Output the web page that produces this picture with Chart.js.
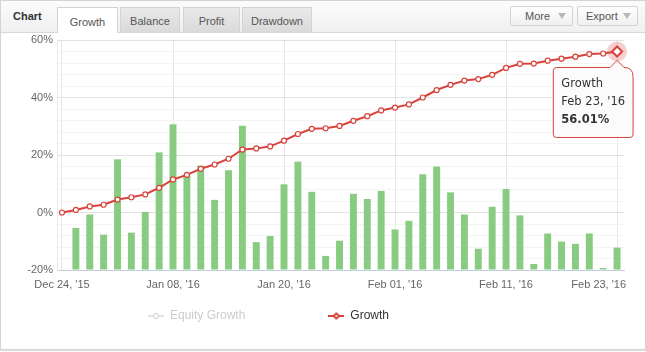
<!DOCTYPE html>
<html><head><meta charset="utf-8">
<script src="https://cdn.jsdelivr.net/npm/chart.js@4.4.1/dist/chart.umd.min.js"></script>
<style>
html,body{margin:0;padding:0;background:#fff;}
body{width:646px;height:352px;position:relative;overflow:hidden;font-family:"Liberation Sans",Arial,sans-serif;}
#cv{position:absolute;left:0;top:0;}
#frame{position:absolute;left:0;top:0;width:644px;height:348px;border:1px solid #d4d4d4;pointer-events:none;box-shadow:0 1px 1px rgba(0,0,0,0.12);z-index:3}
#head{position:absolute;left:0;top:0;width:646px;height:32px;background:linear-gradient(#fcfcfc,#f0f0f0);border-bottom:1px solid #d9d9d9;z-index:2}
#title{position:absolute;left:13px;top:10px;font:bold 11px "Liberation Sans",Arial,sans-serif;color:#333}
.tab{position:absolute;top:7px;height:25px;box-sizing:border-box;border:1px solid #d3d3d3;border-bottom:none;background:linear-gradient(#e9e9e9,#dadada);color:#555;font:11px "Liberation Sans",Arial,sans-serif;display:flex;align-items:center;justify-content:center;padding-top:2px}
.tab.active{background:#fff;height:26px;}
.btn{position:absolute;top:6px;height:20px;box-sizing:border-box;border:1px solid #d3d3d3;border-radius:2px;background:linear-gradient(#ffffff,#f0f0f0);color:#555;font:11px "Liberation Sans",Arial,sans-serif}
.btn span{position:absolute;top:3px}
.btn i{position:absolute;right:6px;top:6px;width:0;height:0;border-left:4px solid transparent;border-right:4px solid transparent;border-top:6px solid #b8b8b8}
</style>
</head><body>
<canvas id="cv" width="646" height="352"></canvas>
<div id="head">
  <div id="title">Chart</div>
  <div class="tab active" style="left:57px;width:61px">Growth</div>
  <div class="tab" style="left:120px;width:60px">Balance</div>
  <div class="tab" style="left:183px;width:57px">Profit</div>
  <div class="tab" style="left:242px;width:70px">Drawdown</div>
  <div class="btn" style="left:510px;width:63px"><span style="left:14px">More</span><i></i></div>
  <div class="btn" style="left:577px;width:61px"><span style="left:8px">Export</span><i></i></div>
</div>
<div id="frame"></div>
<script>
// ---- data ----
const dates = [
  "Dec 24, '15","Dec 28, '15","Dec 29, '15","Dec 30, '15","Jan 04, '16","Jan 05, '16","Jan 06, '16","Jan 07, '16",
  "Jan 08, '16","Jan 11, '16","Jan 12, '16","Jan 13, '16","Jan 14, '16","Jan 15, '16","Jan 18, '16","Jan 19, '16",
  "Jan 20, '16","Jan 21, '16","Jan 22, '16","Jan 25, '16","Jan 26, '16","Jan 27, '16","Jan 28, '16","Jan 29, '16",
  "Feb 01, '16","Feb 02, '16","Feb 03, '16","Feb 04, '16","Feb 05, '16","Feb 08, '16","Feb 09, '16","Feb 10, '16",
  "Feb 11, '16","Feb 12, '16","Feb 15, '16","Feb 16, '16","Feb 17, '16","Feb 18, '16","Feb 19, '16","Feb 22, '16",
  "Feb 23, '16"
];
const growth = [
  0, 0.9, 2.1, 2.7, 4.5, 5.3, 6.3, 8.6, 11.5, 13.1, 15.2, 16.7, 18.7, 21.9, 22.3, 23.0,
  25.0, 27.3, 29.1, 29.3, 30.1, 31.9, 33.5, 35.5, 36.5, 37.6, 40.0, 42.6, 44.4, 45.9, 46.4, 47.9,
  50.3, 51.7, 51.8, 52.8, 53.5, 54.2, 55.1, 55.3, 56.01
];
const dailyBars = [
  null, -5.4, -0.7, -7.7, 18.5, -7.0, 0.2, 20.9, 30.7, 13.0, 16.3, 4.4, 14.7, 30.2, -10.3, -8.2,
  9.8, 17.7, 7.2, -15.1, -9.8, 6.5, 4.7, 7.5, -5.9, -2.9, 13.3, 16.0, 7.0, -0.7, -12.6, 2.0,
  8.2, -1.0, -17.9, -7.3, -10.1, -10.9, -7.3, -19.3, -12.2
];
const yTickLabels = [-20, 0, 20, 40, 60];
const xTickIndex = [0, 8, 16, 24, 32, 40];
const legendNames = ['Equity Growth', 'Growth'];
const seriesName = 'Growth';

// ---- styles ----
const RED = '#d8433b';
const GREEN = '#89cc81';
const FONT = '"Liberation Sans", Arial, sans-serif';
const TIPFONT = '"DejaVu Sans", Verdana, sans-serif';
const LAST = growth.length - 1;
Chart.defaults.font.family = FONT;

function legendIcon(color, shape, lw) {
  const c = document.createElement('canvas');
  c.width = 16; c.height = 10;
  const g = c.getContext('2d');
  g.strokeStyle = color; g.lineWidth = lw;
  g.beginPath(); g.moveTo(0, 5); g.lineTo(16, 5); g.stroke();
  g.lineWidth = 1;
  g.beginPath();
  if (shape === 'circle') { g.fillStyle = '#fff'; g.arc(8, 5, 2.5, 0, Math.PI * 2); }
  else { g.fillStyle = color; g.moveTo(8, 1.5); g.lineTo(11.5, 5); g.lineTo(8, 8.5); g.lineTo(4.5, 5); g.closePath(); }
  g.fill(); g.stroke();
  if (shape !== 'circle') { g.fillStyle = '#fff'; g.beginPath(); g.arc(8, 5, 1, 0, Math.PI * 2); g.fill(); }
  return c;
}
const icons = [legendIcon('#cccccc', 'circle', 1), legendIcon(RED, 'diamond', 2)];

const haloPlugin = {
  id: 'halo',
  beforeDatasetDraw(chart, args) {
    if (args.index !== 0) return;
    const pt = args.meta.data[LAST];
    if (!pt) return;
    const ctx = chart.ctx;
    ctx.save();
    ctx.fillStyle = 'rgba(216,67,59,0.25)';
    ctx.beginPath(); ctx.arc(pt.x, pt.y, 10, 0, Math.PI * 2); ctx.fill();
    ctx.restore();
  }
};
const layoutTweaks = {
  id: 'layoutTweaks',
  afterLayout(chart) {
    const l = chart.legend;
    l.left = 65;
    l.top = 316 - 83 - 6;
  },
  beforeDraw(chart) {
    // keep the last x label inside the plot, right-aligned like the original
    const s = chart.scales.x;
    const items = s.getLabelItems(chart.chartArea);
    const last = items[items.length - 1];
    if (last && last.options) {
      last.options.textAlign = 'right';
      last.options.translation[0] = s.getPixelForValue(xTickIndex[xTickIndex.length - 1]) + 9;
    }
  }
};

const chart = new Chart(document.getElementById('cv'), {
  data: {
    datasets: [
      {
        type: 'line', label: seriesName,
        data: growth.map((v, i) => ({ x: i, y: v })),
        borderColor: RED, borderWidth: 2, tension: 0,
        backgroundColor: '#fff',
        pointBackgroundColor: '#fff', pointBorderColor: RED,
        pointBorderWidth: c => c.dataIndex === LAST ? 2 : 1.2,
        pointRadius: c => c.dataIndex === LAST ? 5 : 2.5,
        pointStyle: c => c.dataIndex === LAST ? 'rectRot' : 'circle',
        order: 1, clip: false
      },
      {
        type: 'bar', label: 'Daily',
        data: dailyBars.map((v, i) => ({ x: i, y: v })),
        backgroundColor: GREEN, borderWidth: 0,
        base: -20, barPercentage: 0.5, categoryPercentage: 1,
        order: 2
      }
    ]
  },
  options: {
    responsive: false, animation: false,
    events: [],
    layout: { padding: { top: 40, left: 0, right: 22, bottom: 20 } },
    scales: {
      x: {
        type: 'linear', min: -0.36, max: 40.5, offset: false,
        afterBuildTicks: a => { a.ticks = xTickIndex.map(v => ({ value: v })); },
        afterFit: s => { s.height = 25; s.paddingRight = 0; s.paddingLeft = 0; },
        ticks: { color: '#666', font: { size: 11 }, padding: 8, maxRotation: 0, autoSkip: false,
                 callback: v => dates[v] },
        grid: { drawTicks: false, color: '#e6e6e6', offset: false },
        border: { color: '#c0d0e0' }
      },
      y: {
        min: -20, max: 60,
        afterBuildTicks: a => { const t = []; for (let v = -20; v <= 60; v += 4) t.push({ value: v }); a.ticks = t; },
        afterFit: s => { s.width = 57; },
        ticks: { color: '#666', font: { size: 11 }, padding: 4, autoSkip: false,
                 callback: v => yTickLabels.includes(v) ? v + '%' : '' },
        grid: { drawTicks: false, color: c => (c.tick && c.tick.value % 20 === 0) ? '#e2e2e2' : '#f4f4f4' },
        border: { color: '#eaeaea' }
      }
    },
    plugins: {
      legend: {
        display: true, position: 'bottom', align: 'start', maxHeight: 37,
        labels: {
          usePointStyle: true, pointStyleWidth: 16, padding: 83,
          font: { size: 12, family: FONT }, color: '#333',
          generateLabels: () => legendNames.map((n, i) => ({
            text: n, fontColor: i === 0 ? '#cccccc' : '#333333', pointStyle: icons[i],
            hidden: false, lineWidth: 0, strokeStyle: 'rgba(0,0,0,0)', fillStyle: 'rgba(0,0,0,0)'
          }))
        }
      },
      tooltip: {
        enabled: true,
        filter: it => it.datasetIndex === 0,
        xAlign: 'right', yAlign: 'top',
        caretSize: 7, caretPadding: 9,
        cornerRadius: { topLeft: 3, topRight: 9, bottomLeft: 3, bottomRight: 3 },
        backgroundColor: 'rgba(251,251,251,0.95)',
        borderColor: RED, borderWidth: 1,
        padding: 8, displayColors: false,
        titleColor: '#333', bodyColor: '#333',
        titleFont: { family: TIPFONT, size: 11.5, weight: 'normal', lineHeight: '18px' },
        bodyFont: { family: TIPFONT, size: 11.5, weight: 'bold', lineHeight: '18px' },
        titleMarginBottom: 0, titleSpacing: 0, bodySpacing: 0,
        callbacks: {
          title: items => [seriesName, dates[items[0].dataIndex]],
          label: it => growth[it.dataIndex].toFixed(2) + '%'
        }
      }
    }
  },
  plugins: [haloPlugin, layoutTweaks]
});

const p = chart.getDatasetMeta(0).data[LAST];
chart.tooltip.setActiveElements([{ datasetIndex: 0, index: LAST }], { x: p.x, y: p.y });
chart.update();
</script>
</body></html>
